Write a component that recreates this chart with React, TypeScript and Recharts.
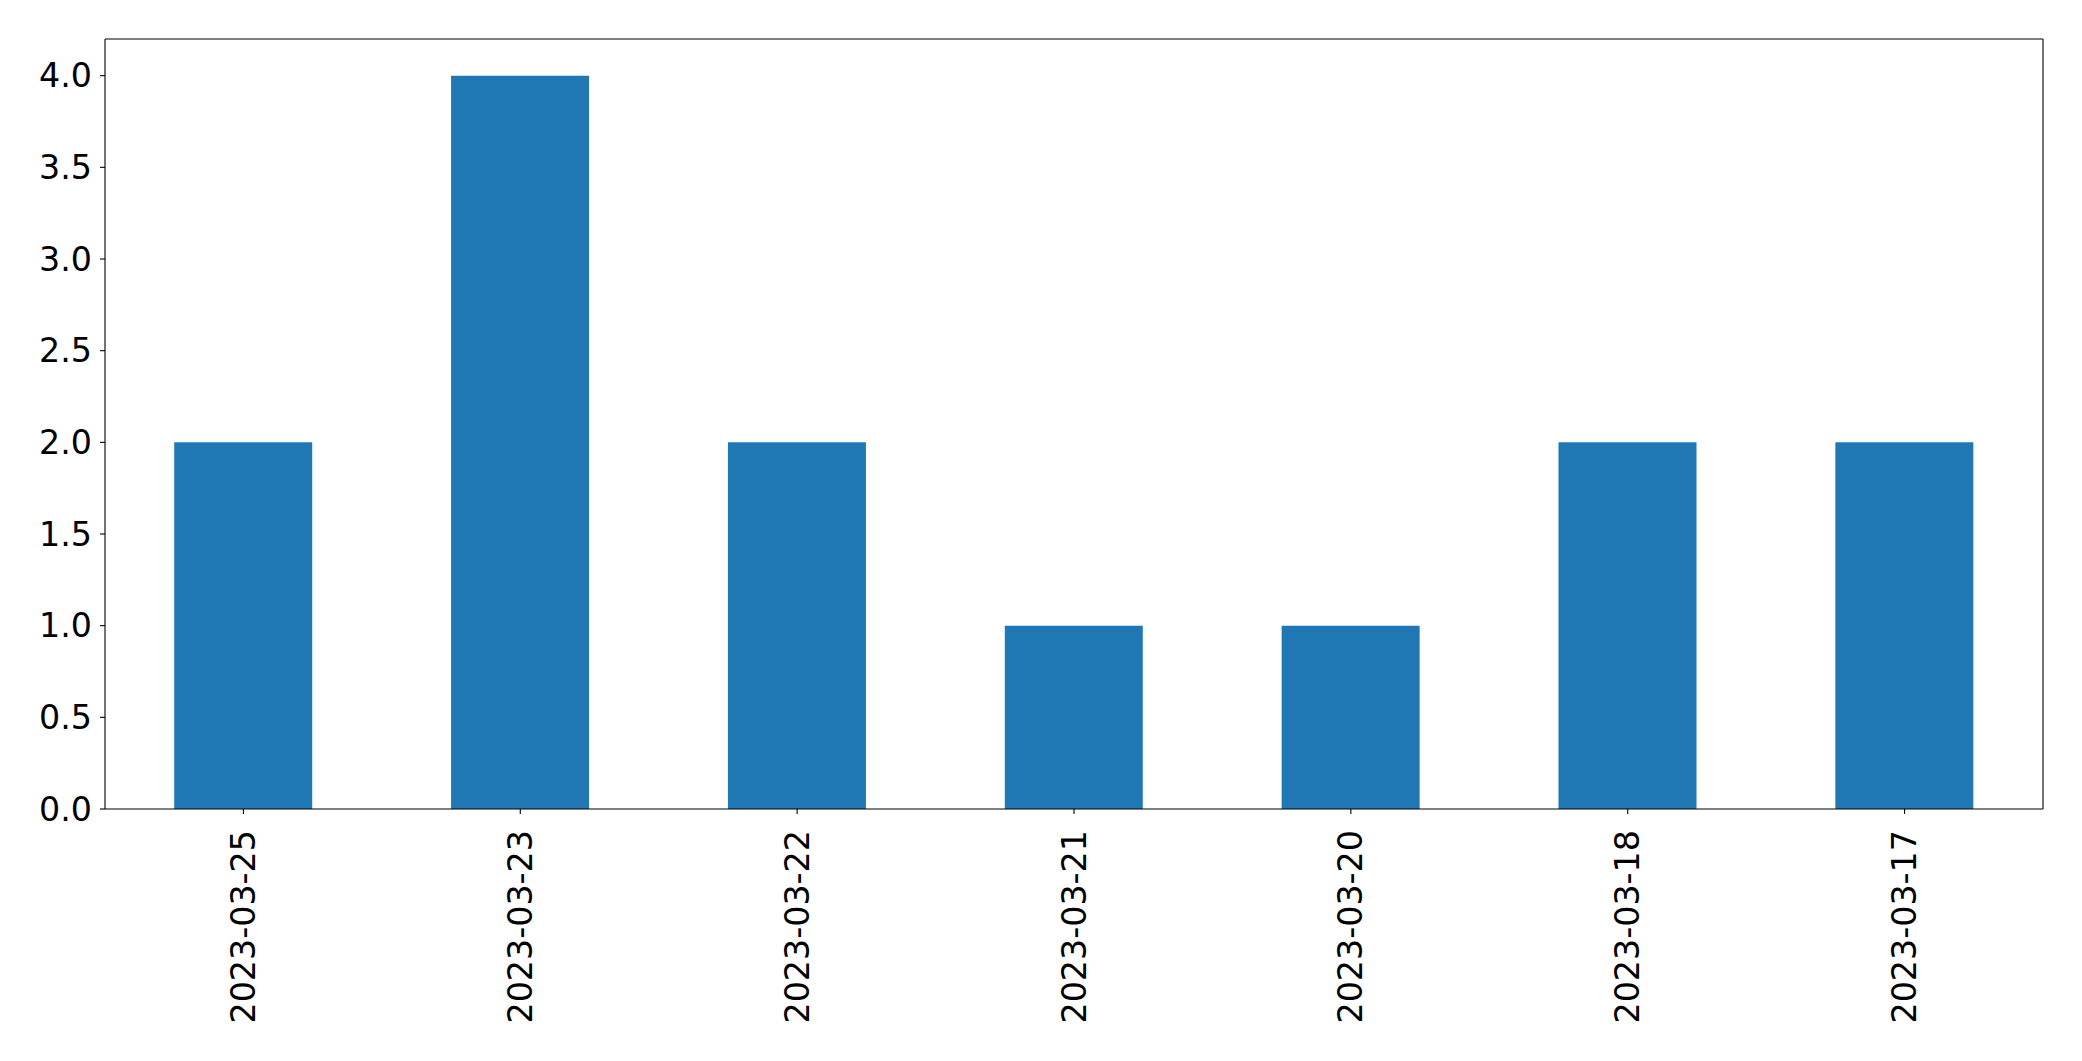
import { Bar, BarChart, XAxis, YAxis } from "recharts";

const dates = ["2023-03-25", "2023-03-23", "2023-03-22", "2023-03-21", "2023-03-20", "2023-03-18", "2023-03-17"];
const counts = [2, 4, 2, 1, 1, 2, 2];
const yTicks = [0, 0.5, 1, 1.5, 2, 2.5, 3, 3.5, 4];

const chartData = dates.map((date, i) => ({ date, count: counts[i] }));

const FONT = "DejaVu Sans";

const DateTick = ({ x, y, payload }: any) => (
  <text
    transform={`translate(${x},${y + 11}) rotate(-90)`}
    textAnchor="end"
    dominantBaseline="central"
    fontFamily={FONT}
    fontSize={33.3}
    fill="#000"
  >
    {payload.value}
  </text>
);

export default function App() {
  return (
    <div style={{ position: "absolute", left: 0, top: 0, background: "#fff" }}>
      <BarChart
        width={2082}
        height={1061}
        data={chartData}
        margin={{ top: 38, right: 38, bottom: 0, left: 0 }}
        barCategoryGap="25%"
      >
        <XAxis
          dataKey="date"
          height={252}
          tick={<DateTick />}
          tickSize={5}
          tickMargin={5}
          stroke="#000"
          axisLine={{ stroke: "#000", strokeWidth: 1.1 }}
          tickLine={{ stroke: "#000", strokeWidth: 1.1 }}
          interval={0}
        />
        <XAxis
          xAxisId="top"
          dataKey="date"
          orientation="top"
          height={1}
          tick={false}
          tickLine={false}
          stroke="#000"
          axisLine={{ stroke: "#000", strokeWidth: 1.1 }}
        />
        <YAxis
          width={105}
          domain={[0, 4.2]}
          ticks={yTicks}
          allowDataOverflow
          tickFormatter={(v: number) => v.toFixed(1)}
          tick={{ fontFamily: FONT, fontSize: 33.3, fill: "#000" }}
          tickSize={5}
          tickMargin={8}
          stroke="#000"
          axisLine={{ stroke: "#000", strokeWidth: 1.1 }}
          tickLine={{ stroke: "#000", strokeWidth: 1.1 }}
        />
        <YAxis
          yAxisId="right"
          orientation="right"
          width={1}
          domain={[0, 4.2]}
          tick={false}
          tickLine={false}
          stroke="#000"
          axisLine={{ stroke: "#000", strokeWidth: 1.1 }}
        />
        <Bar dataKey="count" fill="#1f77b4" isAnimationActive={false} />
      </BarChart>
    </div>
  );
}
